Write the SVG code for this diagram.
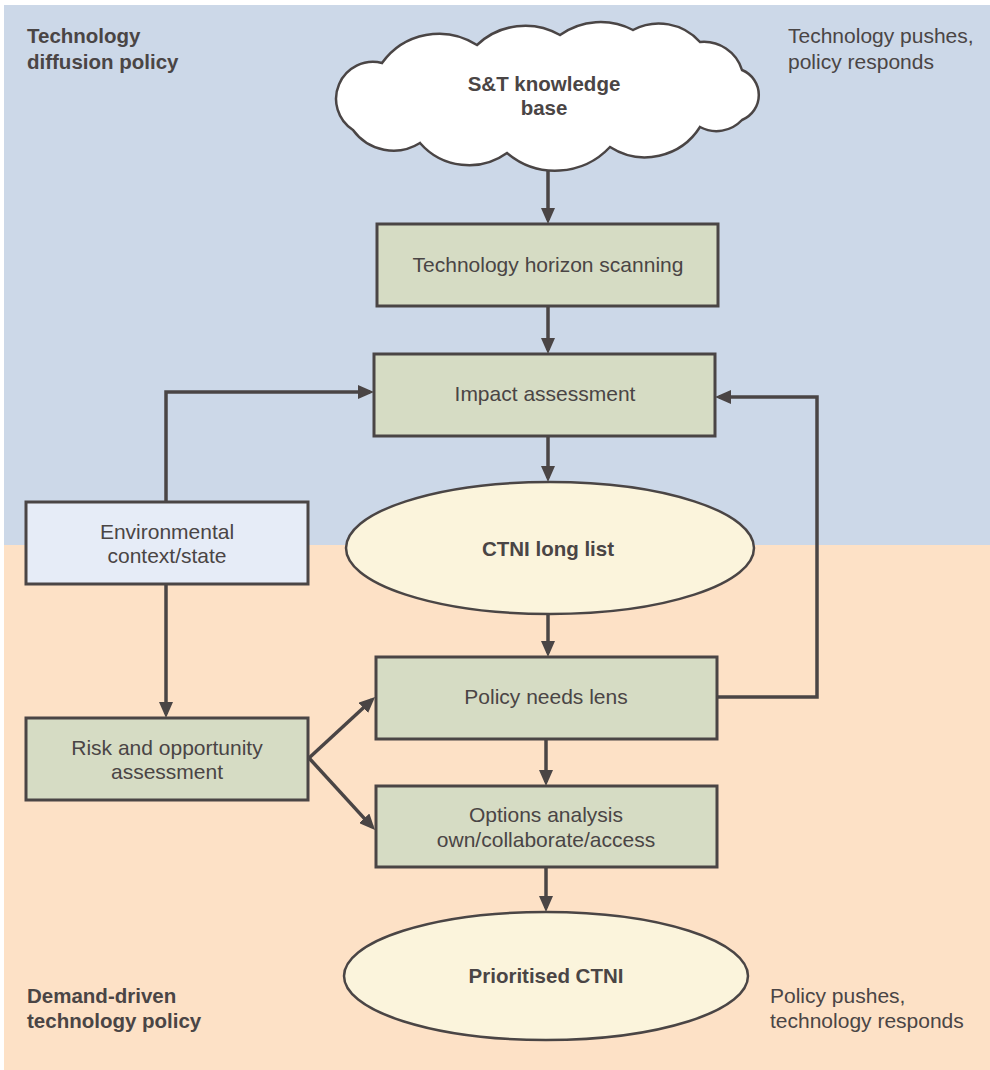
<svg xmlns="http://www.w3.org/2000/svg" width="990" height="1070" viewBox="0 0 990 1070">
<style>
text{font-family:"Liberation Sans",Arial,sans-serif;font-size:21px;fill:#4a4545}
.b{font-weight:bold;font-size:20.5px}
.c{text-anchor:middle}
.box{fill:#d6dcc4;stroke:#4a4545;stroke-width:3}
.env{fill:#e6ecf7;stroke:#4a4545;stroke-width:3}
.ell{fill:#fbf4dc;stroke:#4a4545;stroke-width:2.5}
.cloud{fill:#ffffff;stroke:#4a4545;stroke-width:2.5}
.con{fill:none;stroke:#4a4545;stroke-width:3.5;marker-end:url(#ah)}
</style>
<defs>
<marker id="ah" markerUnits="userSpaceOnUse" markerWidth="16" markerHeight="14" refX="12" refY="7" orient="auto">
<path d="M0,0 L16,7 L0,14 z" fill="#4a4545"/>
</marker>
</defs>
<g id="background">
<rect x="4" y="5" width="986" height="540" fill="#ccd8e8"/>
<rect x="4" y="545" width="986" height="525" fill="#fde1c6"/>
</g>
<g id="labels">
<text class="b" x="27" y="43">Technology</text>
<text class="b" x="27" y="69">diffusion policy</text>
<text x="788" y="43">Technology pushes,</text>
<text x="788" y="69">policy responds</text>
<text class="b" x="27" y="1003">Demand-driven</text>
<text class="b" x="27" y="1028">technology policy</text>
<text x="770" y="1003">Policy pushes,</text>
<text x="770" y="1028">technology responds</text>
</g>
<g id="connectors">
<path class="con" d="M548,163 V220"/>
<path class="con" d="M548,306 V350"/>
<path class="con" d="M548,436 V478"/>
<path class="con" d="M548,614 V653"/>
<path class="con" d="M546,739 V782"/>
<path class="con" d="M546,867 V908"/>
<path class="con" d="M166,502 V392 H370"/>
<path class="con" d="M166,584 V714"/>
<path class="con" d="M309,758 L372.1,699.7"/>
<path class="con" d="M309,758 L372.3,827.1"/>
<path class="con" d="M717,697 H817 V397 H719"/>
</g>
<g id="node-cloud">
<path class="cloud" d="M382,63 A70,70 0 0 1 477,45 A70,70 0 0 1 560,35 A70,70 0 0 1 633,30 A55,55 0 0 1 700,42 A40,40 0 0 1 742,70 A27,27 0 0 1 742,120 A35,35 0 0 1 700,127 A65,65 0 0 1 610,147 A75,75 0 0 1 507,153 A65,65 0 0 1 420,143 A50,50 0 0 1 353,130 A37,37 0 0 1 382,63 Z"/>
<text class="b c" x="544" y="91">S&amp;T knowledge</text>
<text class="b c" x="544" y="115">base</text>
</g>
<g id="node-horizon">
<rect class="box" x="377" y="224" width="341" height="82"/>
<text class="c" x="548" y="272">Technology horizon scanning</text>
</g>
<g id="node-impact">
<rect class="box" x="374" y="354" width="341" height="82"/>
<text class="c" x="545" y="401">Impact assessment</text>
</g>
<g id="node-longlist">
<ellipse class="ell" cx="550" cy="548" rx="204" ry="66"/>
<text class="b c" x="548" y="556">CTNI long list</text>
</g>
<g id="node-env">
<rect class="env" x="26" y="502" width="282" height="82"/>
<text class="c" x="167" y="539">Environmental</text>
<text class="c" x="167" y="563">context/state</text>
</g>
<g id="node-risk">
<rect class="box" x="26" y="718" width="282" height="82"/>
<text class="c" x="167" y="755">Risk and opportunity</text>
<text class="c" x="167" y="779">assessment</text>
</g>
<g id="node-policy">
<rect class="box" x="376" y="657" width="341" height="82"/>
<text class="c" x="546" y="704">Policy needs lens</text>
</g>
<g id="node-options">
<rect class="box" x="376" y="786" width="341" height="81"/>
<text class="c" x="546" y="822">Options analysis</text>
<text class="c" x="546" y="847">own/collaborate/access</text>
</g>
<g id="node-prioritised">
<ellipse class="ell" cx="546" cy="976" rx="202" ry="64"/>
<text class="b c" x="546" y="983">Prioritised CTNI</text>
</g>
</svg>
